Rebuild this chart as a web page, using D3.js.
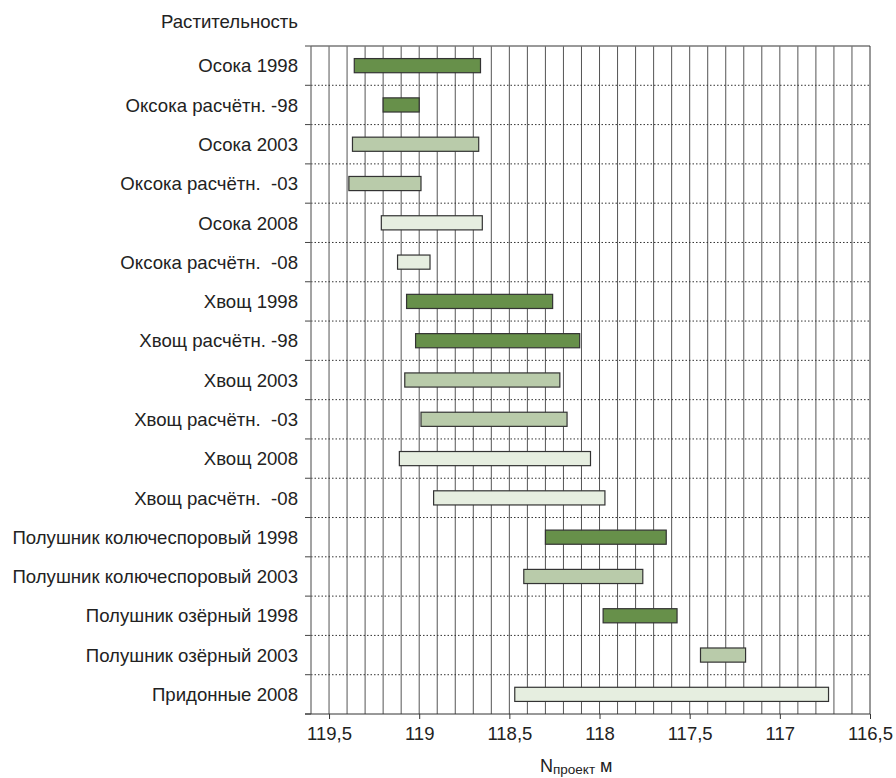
<!DOCTYPE html>
<html>
<head>
<meta charset="utf-8">
<script src="https://cdn.jsdelivr.net/npm/d3@7/dist/d3.min.js"></script>
<style>
  html, body { margin: 0; padding: 0; background: #fff; }
  svg { display: block; font-family: "Liberation Sans", Arial, sans-serif; }
  .cat { white-space: pre; }
</style>
</head>
<body>
<svg id="chart" width="896" height="778"></svg>
<script>
// Vegetation depth ranges (N проект, m), one floating bar per row
const categories = [
  "Осока 1998",
  "Оксока расчётн. -98",
  "Осока 2003",
  "Оксока расчётн.  -03",
  "Осока 2008",
  "Оксока расчётн.  -08",
  "Хвощ 1998",
  "Хвощ расчётн. -98",
  "Хвощ 2003",
  "Хвощ расчётн.  -03",
  "Хвощ 2008",
  "Хвощ расчётн.  -08",
  "Полушник колючеспоровый 1998",
  "Полушник колючеспоровый 2003",
  "Полушник озёрный 1998",
  "Полушник озёрный 2003",
  "Придонные 2008"
];
const upperValues = [119.36, 119.20, 119.37, 119.39, 119.21, 119.12, 119.07, 119.02, 119.08, 118.99, 119.11, 118.92, 118.30, 118.42, 117.98, 117.44, 118.47];
const lowerValues = [118.66, 119.00, 118.67, 118.99, 118.65, 118.94, 118.26, 118.11, 118.22, 118.18, 118.05, 117.97, 117.63, 117.76, 117.57, 117.19, 116.73];
const periods     = ["1998", "1998", "2003", "2003", "2008", "2008", "1998", "1998", "2003", "2003", "2008", "2008", "1998", "2003", "1998", "2003", "2008"];
const tickLabels  = [119.5, 119, 118.5, 118, 117.5, 117, 116.5];

const periodColor = { "1998": "#67904a", "2003": "#b9cbaa", "2008": "#e6eee0" };

const rows = categories.map((name, i) => ({
  name, hi: upperValues[i], lo: lowerValues[i], period: periods[i]
}));

const svg = d3.select("#chart");
const W = 896, H = 778;
const margin = { top: 46, right: 26, bottom: 64, left: 311 };
const x0 = margin.left, x1 = W - margin.right;
const y0 = margin.top, y1 = H - margin.bottom;
const labelFont = 18.6;

const x = d3.scaleLinear().domain([119.6, 116.5]).range([x0, x1]);
const y = d3.scaleBand().domain(categories).range([y0, y1]).paddingInner(0).paddingOuter(0);

// vertical grid every 0.1 m
svg.append("g")
  .selectAll("line")
  .data(x.ticks(31).filter(v => v < 119.59 && v > 116.51))
  .join("line")
  .attr("x1", d => x(d)).attr("x2", d => x(d))
  .attr("y1", y0).attr("y2", y1)
  .attr("stroke", "#555").attr("stroke-width", 1);

// dotted row separators with small ticks left of the axis
const seps = categories.slice(1).map(c => y(c));
svg.append("g")
  .selectAll("line")
  .data(seps)
  .join("line")
  .attr("x1", x0).attr("x2", x1)
  .attr("y1", d => d).attr("y2", d => d)
  .attr("stroke", "#333").attr("stroke-width", 1)
  .attr("stroke-dasharray", "1.5,2");
svg.append("g")
  .selectAll("line")
  .data([y0, ...seps, y1])
  .join("line")
  .attr("x1", x0 - 6).attr("x2", x0)
  .attr("y1", d => d).attr("y2", d => d)
  .attr("stroke", "#444").attr("stroke-width", 1);

// plot frame
svg.append("line").attr("x1", x0).attr("x2", x1).attr("y1", y0).attr("y2", y0)
  .attr("stroke", "#777").attr("stroke-width", 1.5);
svg.append("line").attr("x1", x1).attr("x2", x1).attr("y1", y0).attr("y2", y1)
  .attr("stroke", "#333").attr("stroke-width", 1);
svg.append("line").attr("x1", x0).attr("x2", x0).attr("y1", y0).attr("y2", y1)
  .attr("stroke", "#666").attr("stroke-width", 1.2);

// bars
const barH = y.bandwidth() * 0.36;
svg.append("g")
  .selectAll("rect")
  .data(rows)
  .join("rect")
  .attr("x", d => x(d.hi))
  .attr("width", d => x(d.lo) - x(d.hi))
  .attr("y", d => y(d.name) + (y.bandwidth() - barH) / 2)
  .attr("height", barH)
  .attr("fill", d => periodColor[d.period])
  .attr("stroke", "#333")
  .attr("stroke-width", 1.2);

// x axis
const xAxis = d3.axisBottom(x)
  .tickValues(tickLabels)
  .tickSizeInner(5).tickSizeOuter(0).tickPadding(8)
  .tickFormat(d => String(d).replace(".", ","));
const gx = svg.append("g").attr("transform", `translate(0,${y1})`).call(xAxis);
gx.select(".domain").attr("stroke", "#333").attr("d", `M${x0 - 6},0H${x1}`);
gx.selectAll(".tick line").attr("stroke", "#333");
gx.selectAll("text").attr("font-size", 18.5).attr("fill", "#222")
  .attr("font-family", "'Liberation Sans', Arial, sans-serif");

// category labels (double spaces kept)
svg.append("g")
  .selectAll("text")
  .data(categories)
  .join("text")
  .attr("class", "cat")
  .attr("x", x0 - 13)
  .attr("y", d => y(d) + y.bandwidth() / 2)
  .attr("dy", "0.36em")
  .attr("text-anchor", "end")
  .attr("font-size", labelFont)
  .attr("fill", "#222")
  .text(d => d);

// titles
svg.append("text")
  .attr("x", x0 - 13).attr("y", 28)
  .attr("text-anchor", "end")
  .attr("font-size", labelFont)
  .attr("fill", "#222")
  .text("Растительность");

const xt = svg.append("text")
  .attr("x", 540).attr("y", 772)
  .attr("font-size", 18)
  .attr("fill", "#222");
xt.append("tspan").text("N");
xt.append("tspan").attr("font-size", 13.5).attr("dy", 2).text("проект");
xt.append("tspan").attr("dy", -2).text(" м");
</script>
</body>
</html>
